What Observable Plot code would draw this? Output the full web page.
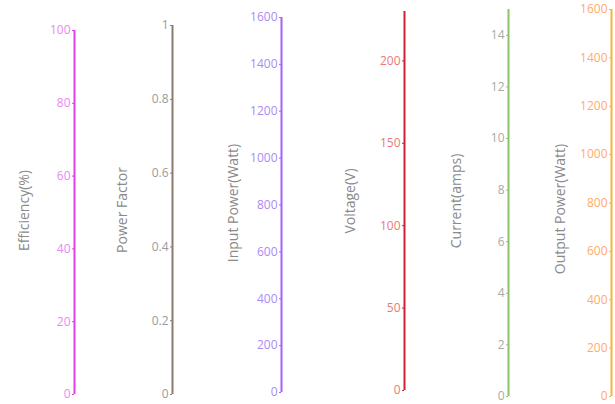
<!DOCTYPE html>
<html>
<head>
<meta charset="utf-8">
<script src="https://cdn.jsdelivr.net/npm/d3@7"></script>
<script src="https://cdn.jsdelivr.net/npm/@observablehq/plot@0.6"></script>
<style>
  html, body { margin: 0; padding: 0; background: #fff; }
  #chart { position: relative; width: 615px; height: 404px; overflow: hidden; font-family: "Open Sans", sans-serif; }
  #chart svg { position: absolute; left: 0; top: 0; overflow: visible; }
</style>
</head>
<body>
<div id="chart"></div>
<script>
// ---- data ----
const axisTitles = ["Efficiency(%)", "Power Factor", "Input Power(Watt)", "Voltage(V)", "Current(amps)", "Output Power(Watt)"];
const axisMax = [100, 1, 1600, 230, 15, 1600];
const efficiencyTicks = [0, 20, 40, 60, 80, 100];
const powerFactorTicks = [0, 0.2, 0.4, 0.6, 0.8, 1];
const inputPowerTicks = [0, 200, 400, 600, 800, 1000, 1200, 1400, 1600];
const voltageTicks = [0, 50, 100, 150, 200];
const currentTicks = [0, 2, 4, 6, 8, 10, 12, 14];
const outputPowerTicks = [0, 200, 400, 600, 800, 1000, 1200, 1400, 1600];
const axisTicks = [efficiencyTicks, powerFactorTicks, inputPowerTicks, voltageTicks, currentTicks, outputPowerTicks];

// ---- layout / style ----
const W = 615, H = 404;
const layout = [
  {x: 74,  top: 30, bottom: 394, line: "#e040e8", label: "#e88af2", titleDx: -50, titleDy: -2},
  {x: 172, top: 25, bottom: 394, line: "#8c7b6a", label: "#9a9a9a", titleDx: -50, titleDy: 0},
  {x: 281, top: 17, bottom: 392, line: "#a660f5", label: "#ac8af4", titleDx: -48, titleDy: -2},
  {x: 404, top: 11, bottom: 390, line: "#cc2233", label: "#e87a7a", titleDx: -54, titleDy: 0},
  {x: 508, top: 9,  bottom: 396, line: "#8cc36a", label: "#a8a8a8", titleDx: -52, titleDy: -2},
  {x: 611, top: 9,  bottom: 396, line: "#f2b83a", label: "#ffab6a", titleDx: -51, titleDy: 6}
];

const chart = document.getElementById("chart");
axisTitles.forEach((title, i) => {
  const L = layout[i];
  const svg = Plot.plot({
    width: W,
    height: H,
    marginLeft: L.x,
    marginRight: W - L.x - 4,
    marginTop: L.top,
    marginBottom: H - L.bottom,
    style: {fontFamily: "Open Sans, sans-serif", background: "transparent"},
    x: {domain: [0, 1], axis: null},
    y: {domain: [0, axisMax[i]], axis: null},
    marks: [
      Plot.axisY({
        anchor: "left",
        ticks: axisTicks[i],
        tickFormat: d => String(d),
        tickSize: 2,
        tickPadding: 2,
        fontSize: 12,
        stroke: L.line,
        fill: L.label,
        label: null
      }),
      Plot.ruleX([0], {stroke: L.line, strokeWidth: 2}),
      Plot.text([title], {
        frameAnchor: "left",
        textAnchor: "middle",
        lineAnchor: "middle",
        dx: L.titleDx,
        dy: L.titleDy,
        rotate: -90,
        fill: "#8a8a8a",
        fontSize: 14,
        text: d => d,
        style: {letterSpacing: "1px"}
      })
    ]
  });
  chart.appendChild(svg);
});
</script>
</body>
</html>
